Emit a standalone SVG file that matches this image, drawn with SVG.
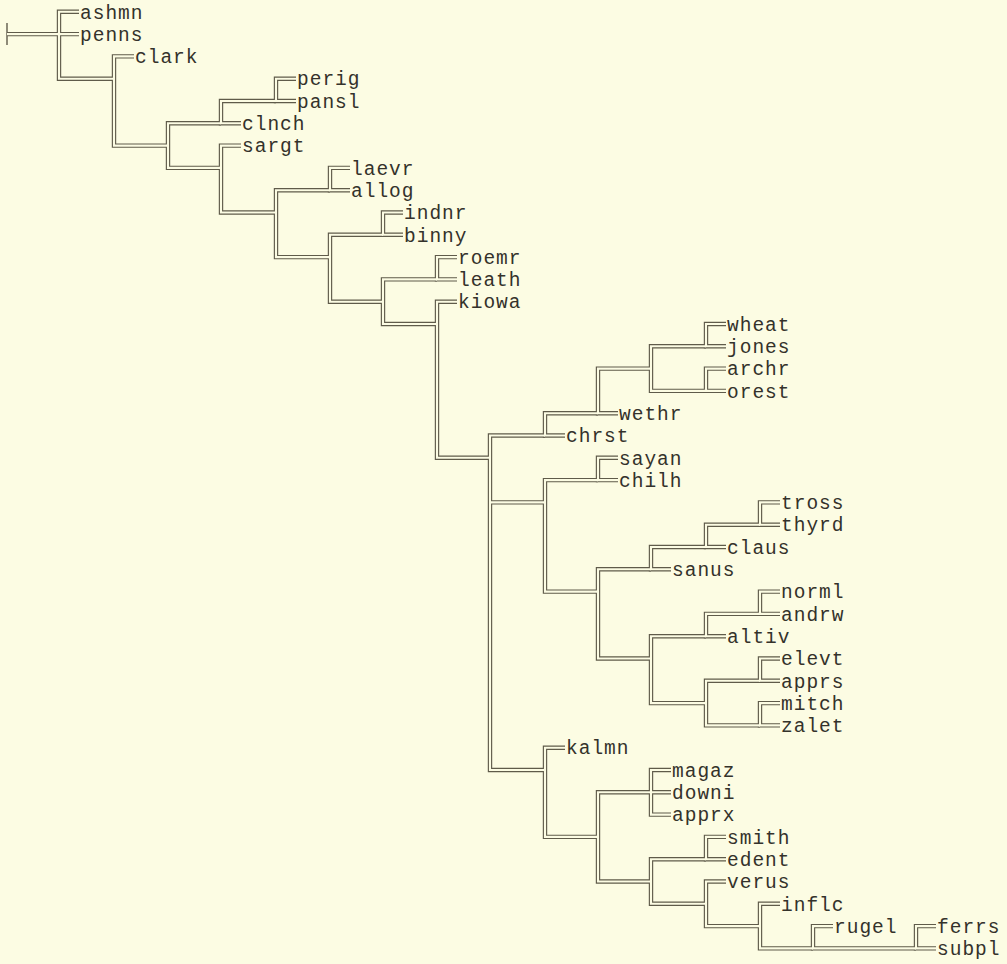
<svg xmlns="http://www.w3.org/2000/svg" xmlns:xlink="http://www.w3.org/1999/xlink" width="1007" height="964" viewBox="0 0 1007 964">
<style>
.bg{fill:#fcfce3}
.outer{stroke:#5f5b4a;stroke-width:4.4;fill:none;stroke-linejoin:miter;stroke-linecap:butt}
.inner{stroke:#fcfce3;stroke-width:2.1;fill:none;stroke-linejoin:miter;stroke-linecap:butt}
.tick{stroke:#5f5b4a;stroke-width:1.4;fill:none}
text{font-family:"Liberation Mono","DejaVu Sans Mono",monospace;font-size:19.5px;letter-spacing:1px;fill:#34322b}
</style>
<rect class="bg" x="0" y="0" width="1007" height="964"/>
<g id="connectors">
  <path class="tick" d="M7,23 V45"/>
  <g class="outer">
    <g id="edges">
      <path id="e-root" d="M7,34.1 H59"/>
      <path id="e-n0" d="M79,11.8 H59 V78.7 H114 M59,34.1 H79"/>
      <path id="e-n1" d="M134,56.4 H114 V145.6 H168"/>
      <path id="e-n2" d="M221,123.3 H168 V167.9 H221"/>
      <path id="e-clnch" d="M276,101 H221 V123.3 H241"/>
      <path id="e-perig" d="M296,78.7 H276 V101 H296"/>
      <path id="e-sargt" d="M241,145.6 H221 V212.5 H276"/>
      <path id="e-n4" d="M330,190.2 H276 V257.1 H330"/>
      <path id="e-laevr" d="M350,167.9 H330 V190.2 H350"/>
      <path id="e-n5" d="M383,234.8 H330 V301.7 H383"/>
      <path id="e-indnr" d="M403,212.5 H383 V234.8 H403"/>
      <path id="e-n6" d="M437,279.4 H383 V324 H437"/>
      <path id="e-roemr" d="M457,257.1 H437 V279.4 H457"/>
      <path id="e-kiowa" d="M457,301.7 H437 V457.8 H490"/>
      <path id="e-n9" d="M545,435.5 H490 V770 H545 M490,502.4 H545"/>
      <path id="e-chrst" d="M598,413.2 H545 V435.5 H565"/>
      <path id="e-wethr" d="M651,368.6 H598 V413.2 H618"/>
      <path id="e-n12a" d="M706,346.3 H651 V390.9 H706"/>
      <path id="e-wheat" d="M726,324 H706 V346.3 H726"/>
      <path id="e-archr" d="M726,368.6 H706 V390.9 H726"/>
      <path id="e-sayclade" d="M598,480.1 H545 V591.6 H598"/>
      <path id="e-sayan" d="M618,457.8 H598 V480.1 H618"/>
      <path id="e-q" d="M651,569.3 H598 V658.5 H651"/>
      <path id="e-sanus" d="M706,547 H651 V569.3 H671"/>
      <path id="e-claus" d="M760,524.7 H706 V547 H726"/>
      <path id="e-tross" d="M780,502.4 H760 V524.7 H780"/>
      <path id="e-r" d="M706,636.2 H651 V703.1 H706"/>
      <path id="e-altiv" d="M760,613.9 H706 V636.2 H726"/>
      <path id="e-norml" d="M780,591.6 H760 V613.9 H780"/>
      <path id="e-s" d="M760,680.8 H706 V725.4 H760"/>
      <path id="e-elevt" d="M780,658.5 H760 V680.8 H780"/>
      <path id="e-mitch" d="M780,703.1 H760 V725.4 H780"/>
      <path id="e-kalmn" d="M565,747.7 H545 V836.9 H598"/>
      <path id="e-t" d="M651,792.3 H598 V881.5 H651"/>
      <path id="e-magaz" d="M671,770 H651 V814.6 H671 M651,792.3 H671"/>
      <path id="e-u" d="M706,859.2 H651 V903.8 H706"/>
      <path id="e-smith" d="M726,836.9 H706 V859.2 H726"/>
      <path id="e-verus" d="M726,881.5 H706 V926.1 H760"/>
      <path id="e-inflc" d="M780,903.8 H760 V948.4 H813"/>
      <path id="e-rugel" d="M833,926.1 H813 V948.4 H916"/>
      <path id="e-ferrs" d="M936,926.1 H916 V948.4 H936"/>
    </g>
  </g>
  <use xlink:href="#edges" href="#edges" class="inner"/>
</g>
<g id="labels">
  <g id="leaf-ashmn"><text x="80" y="18.5">ashmn</text></g>
  <g id="leaf-penns"><text x="80" y="40.8">penns</text></g>
  <g id="leaf-clark"><text x="135" y="63.1">clark</text></g>
  <g id="leaf-perig"><text x="297" y="85.4">perig</text></g>
  <g id="leaf-pansl"><text x="297" y="107.7">pansl</text></g>
  <g id="leaf-clnch"><text x="242" y="130">clnch</text></g>
  <g id="leaf-sargt"><text x="242" y="152.3">sargt</text></g>
  <g id="leaf-laevr"><text x="351" y="174.6">laevr</text></g>
  <g id="leaf-allog"><text x="351" y="196.9">allog</text></g>
  <g id="leaf-indnr"><text x="404" y="219.2">indnr</text></g>
  <g id="leaf-binny"><text x="404" y="241.5">binny</text></g>
  <g id="leaf-roemr"><text x="458" y="263.8">roemr</text></g>
  <g id="leaf-leath"><text x="458" y="286.1">leath</text></g>
  <g id="leaf-kiowa"><text x="458" y="308.4">kiowa</text></g>
  <g id="leaf-wheat"><text x="727" y="330.7">wheat</text></g>
  <g id="leaf-jones"><text x="727" y="353">jones</text></g>
  <g id="leaf-archr"><text x="727" y="375.3">archr</text></g>
  <g id="leaf-orest"><text x="727" y="397.6">orest</text></g>
  <g id="leaf-wethr"><text x="619" y="419.9">wethr</text></g>
  <g id="leaf-chrst"><text x="566" y="442.2">chrst</text></g>
  <g id="leaf-sayan"><text x="619" y="464.5">sayan</text></g>
  <g id="leaf-chilh"><text x="619" y="486.8">chilh</text></g>
  <g id="leaf-tross"><text x="781" y="509.1">tross</text></g>
  <g id="leaf-thyrd"><text x="781" y="531.4">thyrd</text></g>
  <g id="leaf-claus"><text x="727" y="553.7">claus</text></g>
  <g id="leaf-sanus"><text x="672" y="576">sanus</text></g>
  <g id="leaf-norml"><text x="781" y="598.3">norml</text></g>
  <g id="leaf-andrw"><text x="781" y="620.6">andrw</text></g>
  <g id="leaf-altiv"><text x="727" y="642.9">altiv</text></g>
  <g id="leaf-elevt"><text x="781" y="665.2">elevt</text></g>
  <g id="leaf-apprs"><text x="781" y="687.5">apprs</text></g>
  <g id="leaf-mitch"><text x="781" y="709.8">mitch</text></g>
  <g id="leaf-zalet"><text x="781" y="732.1">zalet</text></g>
  <g id="leaf-kalmn"><text x="566" y="754.4">kalmn</text></g>
  <g id="leaf-magaz"><text x="672" y="776.7">magaz</text></g>
  <g id="leaf-downi"><text x="672" y="799">downi</text></g>
  <g id="leaf-apprx"><text x="672" y="821.3">apprx</text></g>
  <g id="leaf-smith"><text x="727" y="843.6">smith</text></g>
  <g id="leaf-edent"><text x="727" y="865.9">edent</text></g>
  <g id="leaf-verus"><text x="727" y="888.2">verus</text></g>
  <g id="leaf-inflc"><text x="781" y="910.5">inflc</text></g>
  <g id="leaf-rugel"><text x="834" y="932.8">rugel</text></g>
  <g id="leaf-ferrs"><text x="937" y="932.8">ferrs</text></g>
  <g id="leaf-subpl"><text x="937" y="955.1">subpl</text></g>
</g>
</svg>
